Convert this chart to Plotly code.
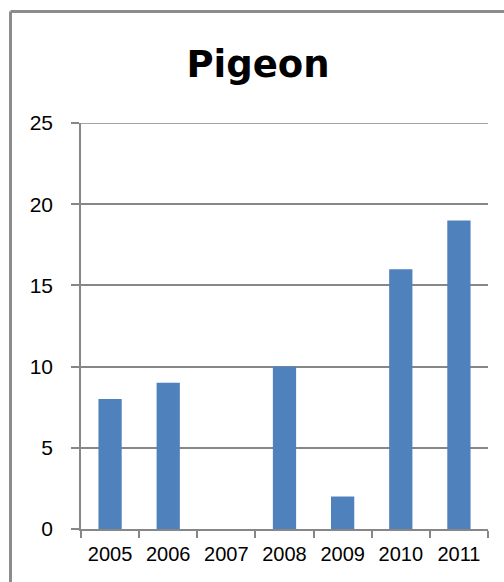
import plotly.graph_objects as go

# Yearly counts
years = ["2005", "2006", "2007", "2008", "2009", "2010", "2011"]
counts = [8, 9, 0, 10, 2, 16, 19]
y_ticks = [0, 5, 10, 15, 20, 25]
y_max = 25

W, H = 504, 582
L, R, T, B = 81, 16, 123, 53
plot_w = W - L - R
plot_h = H - T - B


def px_x(px):
    return (px - L) / plot_w


def px_y(py):
    return (H - B - py) / plot_h


bar_color = "#4F81BD"
grid_color = "#878787"
frame_color = "#8C8C8C"

fig = go.Figure(
    go.Bar(
        x=years,
        y=counts,
        marker=dict(color=bar_color, line=dict(width=0)),
        width=0.4,
    )
)

fig.update_layout(
    width=W,
    height=H,
    margin=dict(l=L, r=R, t=T, b=B, pad=0),
    paper_bgcolor="white",
    plot_bgcolor="white",
    showlegend=False,
    title=dict(
        text="<b>Pigeon</b>",
        font=dict(family="DejaVu Sans", size=37, color="black"),
        x=258 / W,
        xanchor="center",
        xref="container",
        y=1 - 64 / H,
        yanchor="middle",
        yref="container",
    ),
    font=dict(family="Liberation Sans", color="black"),
    xaxis=dict(
        type="category",
        tickson="boundaries",
        ticks="outside",
        ticklen=7,
        tickwidth=1.5,
        tickcolor=grid_color,
        showline=True,
        linecolor=grid_color,
        linewidth=1.5,
        showgrid=False,
        tickfont=dict(size=20),
        ticklabelstandoff=6,
    ),
    yaxis=dict(
        range=[0, y_max],
        tickvals=y_ticks,
        ticks="outside",
        ticklen=8,
        tickwidth=1.5,
        tickcolor=grid_color,
        showline=True,
        linecolor=grid_color,
        linewidth=1.5,
        showgrid=True,
        gridcolor=grid_color,
        gridwidth=1.5,
        zeroline=False,
        tickfont=dict(size=21),
        ticklabelstandoff=14,
    ),
    shapes=[
        # top gridline at the axis maximum
        dict(type="line", xref="paper", yref="y",
             x0=0, x1=1, y0=y_max, y1=y_max,
             line=dict(color=grid_color, width=1.5)),
        # chart frame (top and left edges)
        dict(type="line", xref="paper", yref="paper",
             x0=px_x(10.5), x1=px_x(W + 10), y0=px_y(11.5), y1=px_y(11.5),
             line=dict(color=frame_color, width=3)),
        dict(type="line", xref="paper", yref="paper",
             x0=px_x(10.5), x1=px_x(10.5), y0=px_y(11.5), y1=px_y(H + 10),
             line=dict(color=frame_color, width=3)),
    ],
)

fig.write_html("out.html")
